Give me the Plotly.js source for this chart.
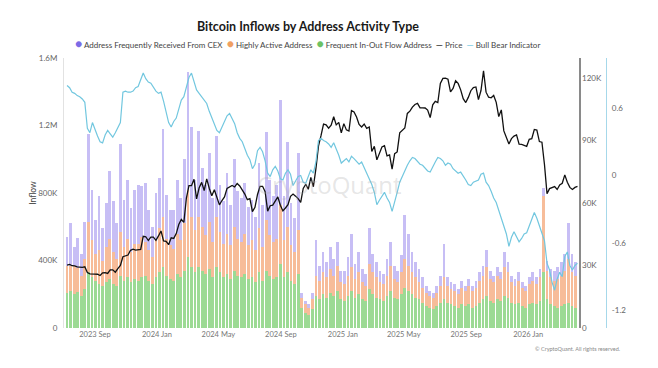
<!DOCTYPE html>
<html><head><meta charset="utf-8">
<script src="https://cdn.plot.ly/plotly-3.0.1.min.js"></script>
<style>html,body{margin:0;padding:0;background:#fff}#chart{width:658px;height:368px}</style>
</head><body><div id="chart"></div>
<script>
const barStart = '2023-07-08', barStepDays = 7;
const lineStart = '2023-07-08', lineStepDays = 5;

const inOutInflow = [210,220,200,215,190,230,330,300,280,260, 250,270,290,260,250,310,280,300,270,290,
 280,300,310,280,260,300,330,360,310,290, 280,320,300,340,420,360,330,360,340,320,
 350,300,360,330,300,320,290,340,310,300, 320,290,300,270,330,280,340,310,290,300,
 380,300,330,280,260,320,120,90,80,110, 190,170,200,180,210,190,220,170,160,190,
 220,180,200,170,160,230,200,180,170,160, 190,220,180,170,200,240,220,200,180,170,
 150,130,120,110,130,150,170,150,140,130, 120,140,130,140,120,130,150,170,190,160,
 150,170,160,190,180,150,140,150,130,120, 140,150,140,160,330,170,140,130,120,130,
 140,150,130,120];
const activeInflow = [160,150,170,140,120,180,300,220,160,200, 150,210,240,190,160,260,200,230,180,210,
 220,240,200,180,160,220,260,300,220,200, 190,240,220,280,400,300,250,300,260,230,
 280,210,300,240,200,240,200,260,220,210, 240,200,220,190,260,200,300,240,220,230,
 350,220,270,210,190,260,60,50,40,60, 120,110,130,120,140,120,150,100,100,120,
 140,110,130,100,90,150,130,120,100,100, 120,150,110,100,130,170,150,130,120,100,
 90,80,70,70,80,100,130,100,90,90, 80,100,90,110,100,110,130,140,170,130,
 120,140,130,170,150,120,110,130,110,100, 120,130,120,140,450,170,160,150,170,180,
 200,260,200,190];
const cexInflow = [170,250,110,180,130,220,520,300,200,320, 190,260,400,300,210,520,280,350,260,320,
 350,300,350,240,180,280,300,520,260,210, 230,320,250,380,700,530,300,510,350,300,
 410,260,480,280,250,360,240,400,280,260, 300,230,240,200,390,250,520,330,270,320,
 620,260,500,250,200,460,30,20,20,40, 210,90,120,90,130,100,140,70,80,110,
 200,90,120,80,70,210,110,90,70,60, 100,140,80,70,100,260,190,120,90,80,
 60,40,30,30,40,60,200,50,40,40, 30,40,30,40,30,40,50,60,100,50,
 40,50,40,90,60,40,40,50,30,30, 40,50,40,50,50,60,50,60,70,80,
 100,210,110,80];

const priceK = [30.2,30.5,29.9,29.8,29.3,29.2,29.1,29.4,26.6,26.0, 26.1,25.9,25.8,25.2,26.5,26.6,26.2,27.9,27.9,26.8,
 28.5,30.0,34.2,34.6,35.0,37.3,37.8,37.4,37.7,37.7, 44.0,43.8,42.0,43.6,43.6,42.1,44.2,46.6,41.8,41.6,
 40.0,43.3,43.0,45.3,49.7,52.1,50.7,62.4,68.3,68.3, 71.4,62.0,67.2,69.9,66.0,71.6,67.1,63.5,66.4,63.1,
 59.1,61.2,62.9,67.0,67.9,68.4,67.7,69.4,68.2,66.5, 64.3,61.6,62.1,55.9,57.9,64.1,68.0,68.0,65.4,56.1,
 58.7,59.0,61.2,62.9,58.9,56.2,57.6,59.2,63.2,64.3, 63.3,62.1,60.3,67.0,69.0,66.6,72.3,67.8,76.5,87.3,
 92.3,97.9,97.5,95.9,97.4,101.4,97.5,98.7,93.7,98.1, 95.1,94.5,104.4,103.7,101.3,97.7,96.5,97.9,95.8,96.5,
 84.7,87.2,80.7,84.0,86.9,87.5,82.6,83.1,76.3,83.7, 84.5,93.7,95.0,96.0,103.0,104.1,106.0,107.3,107.8,105.7,
 105.7,105.6,104.6,101.0,107.1,108.8,108.2,117.4,119.8,119.9, 119.4,113.3,115.0,118.7,117.4,114.3,110.1,108.2,110.7,113.9,
 115.4,115.7,109.6,114.0,123.5,113.2,110.8,110.5,111.6,108.3, 101.5,104.7,94.6,91.5,88.3,90.9,92.1,92.7,88.2,88.1,
 87.6,87.2,90.6,90.9,95.3,95.0,89.5,89.2,78.5,64.5, 66.9,67.5,67.9,66.5,68.7,69.5,73.5,70.0,67.5,66.5,
 67.5,68.0];

const bullBear = [0.80,0.78,0.74,0.73,0.71,0.70,0.68,0.65,0.42,0.38, 0.47,0.40,0.35,0.30,0.29,0.36,0.40,0.37,0.34,0.38,
 0.43,0.47,0.74,0.75,0.74,0.74,0.75,0.78,0.79,0.86, 0.91,0.86,0.83,0.82,0.78,0.75,0.73,0.74,0.66,0.56,
 0.47,0.43,0.48,0.51,0.58,0.67,0.70,0.80,0.87,0.91, 0.84,0.76,0.73,0.70,0.67,0.64,0.57,0.51,0.45,0.40,
 0.38,0.43,0.47,0.53,0.55,0.50,0.46,0.38,0.33,0.30, 0.24,0.18,0.14,0.06,0.10,0.22,0.25,0.21,0.13,0.02,
 -0.01,0.05,0.08,0.04,-0.03,-0.04,0.02,0.05,0.01,-0.09, -0.05,-0.01,0.00,-0.06,-0.07,0.00,0.05,0.02,0.12,0.31,
 0.33,0.31,0.30,0.28,0.25,0.29,0.24,0.18,0.11,0.13, 0.15,0.12,0.17,0.15,0.12,0.10,0.12,0.07,0.03,-0.03,
 -0.08,-0.15,-0.26,-0.22,-0.18,-0.15,-0.20,-0.24,-0.32,-0.22, -0.15,-0.06,-0.01,0.05,0.09,0.13,0.16,0.15,0.12,0.10,
 0.09,0.06,0.04,0.03,0.08,0.12,0.16,0.15,0.13,0.09, 0.11,0.10,0.06,0.04,0.02,0.03,0.00,-0.04,-0.08,-0.09,
 -0.06,-0.05,-0.04,0.01,0.02,-0.06,-0.09,-0.14,-0.20,-0.24, -0.31,-0.37,-0.43,-0.52,-0.63,-0.55,-0.50,-0.55,-0.59,-0.56,
 -0.52,-0.51,-0.45,-0.38,-0.33,-0.38,-0.45,-0.50,-0.58,-0.78, -0.84,-0.95,-1.02,-0.92,-0.86,-0.90,-0.72,-0.68,-0.80,-0.84,
 -0.80,-0.78];

const seriesNames = ['Address Frequently Received From CEX','Highly Active Address','Frequent In-Out Flow Address','Price','Bull Bear Indicator'];
const inflowTickVals = [0,400,800,1200,1600];
const inflowTickText = ['0','400K','800K','1.2M','1.6M'];
const priceTickVals = [0,30,60,90,120];
const priceTickText = ['0','30K','60K','90K','120K'];
const bbTickVals = [-1.2,-0.6,0,0.6];
const bbTickText = ['-1.2','-0.6','0','0.6'];
const xTickStart = '2023-09-01';

// ---- build ----
function dateSeq(start, step, n){
  const out=[]; const t0=Date.parse(start+'T00:00:00Z');
  for(let i=0;i<n;i++) out.push(new Date(t0+i*step*86400000).toISOString().slice(0,10));
  return out;
}
const barX = dateSeq(barStart, barStepDays, inOutInflow.length);
const lineX = dateSeq(lineStart, lineStepDays, priceK.length);

const C = {cex:'#b2a6f2', active:'#f6b188', inout:'#94d78c', price:'#111111', bb:'#72c7df'};

const traces = [
  {type:'bar', name:seriesNames[2], x:barX, y:inOutInflow, marker:{color:C.inout, line:{width:0}}, opacity:0.92, yaxis:'y', showlegend:false, hoverinfo:'skip'},
  {type:'bar', name:seriesNames[1], x:barX, y:activeInflow, marker:{color:C.active, line:{width:0}}, opacity:0.85, yaxis:'y', showlegend:false, hoverinfo:'skip'},
  {type:'bar', name:seriesNames[0], x:barX, y:cexInflow, marker:{color:C.cex, line:{width:0}}, opacity:0.72, yaxis:'y', showlegend:false, hoverinfo:'skip'},
  {type:'scatter', mode:'lines', name:seriesNames[3], x:lineX, y:priceK, line:{color:C.price, width:1.3}, yaxis:'y2', showlegend:false, hoverinfo:'skip'},
  {type:'scatter', mode:'lines', name:seriesNames[4], x:lineX, y:bullBear, line:{color:C.bb, width:1.2}, yaxis:'y3', showlegend:false, hoverinfo:'skip'}
];

const dot = (c)=>'<span style="color:'+c+';font-size:12px">●</span>';
const dash = (c)=>'<span style="color:'+c+';font-size:9px">—</span>';
const sp = '&nbsp;&nbsp;';
const legendText = dot('#7b6be6')+' '+seriesNames[0]+sp+dot('#f0a062')+' '+seriesNames[1]+sp+dot('#6cc264')+' '+seriesNames[2]+sp+dash('#111')+' '+seriesNames[3]+sp+dash('#72c7df')+' '+seriesNames[4];

const layout = {
  width:658, height:368,
  margin:{l:64, r:52, t:58, b:40},
  paper_bgcolor:'#ffffff', plot_bgcolor:'#ffffff',
  font:{family:'Lato, sans-serif', size:8, color:'#666'},
  showlegend:false,
  barmode:'stack', bargap:0.22,
  title:{text:'<b>Bitcoin Inflows by Address Activity Type</b>', xref:'container', yref:'container', x:0.468, y:0.927, xanchor:'center', yanchor:'middle', font:{family:'Lato, sans-serif', size:12.5, color:'#1a1a1a'}},
  xaxis:{type:'date', domain:[0,0.9502], range:['2023-07-02','2026-04-11'], tick0:xTickStart, dtick:'M4', tickformat:'%Y %b', showgrid:false, zeroline:false, showline:false, ticks:'', tickfont:{size:7.5, color:'#777'}},
  yaxis:{range:[0,1600], tickvals:inflowTickVals, ticktext:inflowTickText, showgrid:false, zeroline:false, showline:true, linecolor:'#e2e2e2', linewidth:1, ticks:'outside', ticklen:4, tickcolor:'rgba(0,0,0,0)', tickfont:{size:8, color:'#666'}, title:{text:'Inflow', font:{size:8.5, color:'#444'}, standoff:0}},
  yaxis2:{overlaying:'y', side:'right', anchor:'x', range:[0,129.6], tickvals:priceTickVals, ticktext:priceTickText, showgrid:false, zeroline:false, showline:true, linecolor:'#8a8a8a', linewidth:1.5, ticks:'', tickfont:{size:8, color:'#666'}},
  yaxis3:{overlaying:'y', side:'right', anchor:'free', position:1, range:[-1.356,1.044], tickvals:bbTickVals, ticktext:bbTickText, showgrid:false, zeroline:false, showline:true, linecolor:'#a6d8ea', linewidth:1.2, ticks:'outside', ticklen:3, tickcolor:'rgba(0,0,0,0)', tickfont:{size:8, color:'#666'}},
  annotations:[
    {text:legendText, xref:'paper', yref:'paper', x:0.450, y:1.054, xanchor:'center', yanchor:'middle', showarrow:false, font:{family:'Lato, sans-serif', size:8, color:'#444'}},
    {text:'CryptoQuant', xref:'paper', yref:'paper', x:0.49, y:0.53, xanchor:'center', yanchor:'middle', showarrow:false, font:{family:'Open Sans, sans-serif', size:24, color:'rgba(170,170,170,0.3)'}},
    {text:'© CryptoQuant. All rights reserved.', xref:'paper', yref:'paper', x:1.03, y:-0.078, xanchor:'right', yanchor:'middle', showarrow:false, font:{size:5.5, color:'#888'}}
  ]
};

Plotly.newPlot('chart', traces, layout, {staticPlot:true, displayModeBar:false});
</script>
</body></html>
